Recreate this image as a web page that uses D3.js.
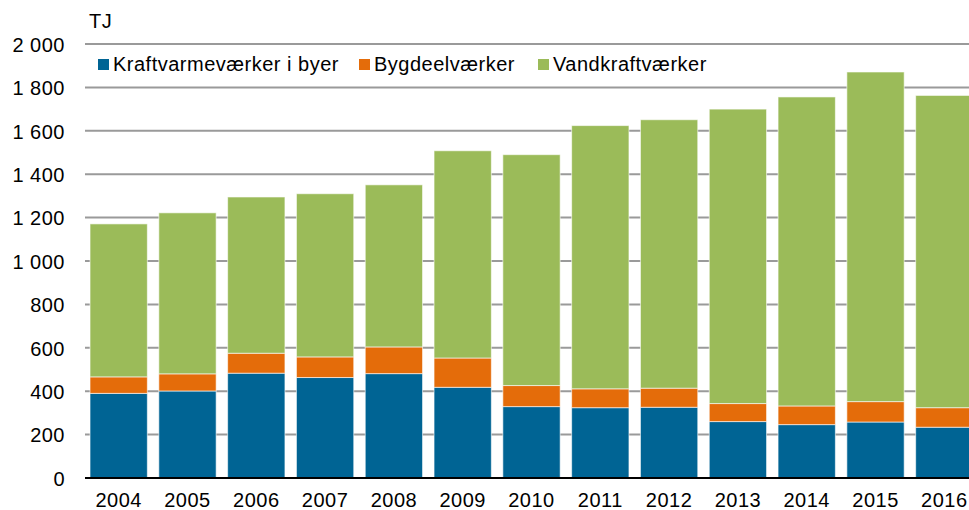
<!DOCTYPE html>
<html>
<head>
<meta charset="utf-8">
<script src="https://cdn.jsdelivr.net/npm/d3@7"></script>
<style>
  body { margin: 0; background: #fff; }
  svg { display: block; font-family: "Liberation Sans", Arial, sans-serif; }
  svg text { letter-spacing: 0.5px; }
</style>
</head>
<body>
<div id="chart"></div>
<script>
// data (TJ)
var years = ["2004","2005","2006","2007","2008","2009","2010","2011","2012","2013","2014","2015","2016"];
var kraftvarme = [390, 401, 483, 463, 481, 418, 329, 324, 326, 260, 246, 258, 234];
var bygdeel    = [76, 79, 92, 95, 123, 135, 97, 87, 88, 83, 86, 94, 90];
var vandkraft  = [705, 742, 720, 752, 747, 955, 1064, 1213, 1237, 1357, 1424, 1519, 1439];
var seriesNames = ["Kraftvarmeværker i byer", "Bygdeelværker", "Vandkraftværker"];
var seriesColors = ["#006494", "#E46C0A", "#9BBB59"];
var yTicks = [0, 200, 400, 600, 800, 1000, 1200, 1400, 1600, 1800, 2000];

var width = 969, height = 510;

var svg = d3.select("#chart").append("svg")
    .attr("width", width)
    .attr("height", height);

// build a table for d3.stack
var table = years.map(function(y, i) {
  return { year: y, k: kraftvarme[i], b: bygdeel[i], v: vandkraft[i] };
});
var stacked = d3.stack().keys(["k", "b", "v"])(table);

var xScale = d3.scaleBand()
    .domain(years)
    .range([85, 978])
    .paddingInner(0.167)
    .paddingOuter(0.073);

var yScale = d3.scaleLinear()
    .domain([0, 2000])
    .range([478, 44]);

var fmt = function(d) { return d3.format(",")(d).replace(",", " "); };

// gridlines
svg.append("g")
  .selectAll("line")
  .data(yTicks.filter(d => d > 0))
  .enter()
  .append("line")
    .attr("x1", 85)
    .attr("x2", width)
    .attr("y1", d => yScale(d))
    .attr("y2", d => yScale(d))
    .attr("stroke", "#9a9a9a")
    .attr("stroke-width", 2);

// y axis labels
var yAxis = d3.axisLeft(yScale).tickValues(yTicks).tickFormat(fmt).tickSize(0).tickPadding(0);
var yg = svg.append("g")
    .attr("transform", "translate(65,0)")
    .call(yAxis);
yg.select(".domain").remove();
yg.selectAll("text")
    .attr("font-size", 20)
    .attr("font-family", "Liberation Sans, Arial, sans-serif")
    .attr("fill", "#000")
    .attr("dy", "0.36em");

// bars
svg.append("g")
  .selectAll("g")
  .data(stacked)
  .enter()
  .append("g")
    .attr("fill", (d, i) => seriesColors[i])
  .selectAll("rect")
  .data(d => d)
  .enter()
  .append("rect")
    .attr("x", d => xScale(d.data.year))
    .attr("y", d => yScale(d[1]))
    .attr("width", xScale.bandwidth())
    .attr("height", d => yScale(d[0]) - yScale(d[1]))
    .attr("stroke", "rgba(255,255,255,0.6)")
    .attr("stroke-width", 1);

// baseline
svg.append("line")
    .attr("x1", 85)
    .attr("x2", width)
    .attr("y1", yScale(0))
    .attr("y2", yScale(0))
    .attr("stroke", "#000")
    .attr("stroke-width", 2);

// x axis labels
var xAxis = d3.axisBottom(xScale).tickSize(0).tickPadding(0);
var xg = svg.append("g")
    .attr("transform", "translate(0,493)")
    .call(xAxis);
xg.select(".domain").remove();
xg.selectAll("text")
    .attr("font-size", 20)
    .attr("font-family", "Liberation Sans, Arial, sans-serif")
    .attr("fill", "#000")
    .attr("dy", "0.72em");

// unit label
svg.append("text")
    .attr("x", 89)
    .attr("y", 28)
    .attr("font-size", 20)
    .attr("fill", "#000")
    .text("TJ");

// legend
var legendX = [98, 359, 538];
var legend = svg.append("g")
  .selectAll("g")
  .data(seriesNames)
  .enter()
  .append("g")
    .attr("transform", (d, i) => "translate(" + legendX[i] + ",59)");
legend.append("rect")
    .attr("width", 11)
    .attr("height", 11)
    .attr("fill", (d, i) => seriesColors[i]);
legend.append("text")
    .attr("x", 15)
    .attr("y", 11.5)
    .attr("font-size", 20)
    .attr("fill", "#000")
    .text(d => d);
</script>
</body>
</html>
